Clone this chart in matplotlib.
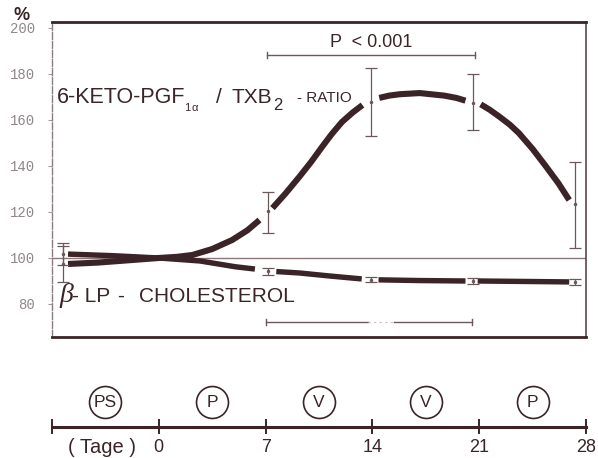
import matplotlib.pyplot as plt
import numpy as np

nan = np.nan

# measurement days and values (% of start value)
days = [-6.3, 7.15, 13.9, 20.6, 27.3]
ratio = [97.4, 120.4, 167.8, 167.4, 123.5]
ratio_lo = [89.4, 110.9, 153.0, 155.7, 104.3]
ratio_hi = [105.4, 128.7, 182.6, 180.0, 141.7]
chol = [101.7, 94.3, 90.6, 90.0, 89.6]
chol_lo = [97.0, 92.8, 89.5, 88.6, 88.2]
chol_hi = [106.5, 95.8, 91.7, 91.4, 91.0]

# traced curves, broken where the error bars sit
ratio_curve_x = [-5.95, -4, -2, 0, 1.2, 2.2, 3.5, 4.8, 5.8, 6.6, nan,
                 7.45, 8.3, 9.2, 10.0, 10.7, 11.35, 12.0, 12.7, 13.35, nan,
                 14.45, 15.1, 15.8, 17.1, 18.7, 19.5, 20.1, nan,
                 21.1, 21.7, 22.35, 23.0, 23.6, 24.5, 25.4, 26.2, 26.9]
ratio_curve_y = [97.4, 98.0, 99.0, 100.0, 100.5, 101.3, 103.9, 107.8, 112.0, 116.5, nan,
                 121.7, 128.0, 135.2, 141.9, 148.3, 154.0, 159.1, 163.2, 166.5, nan,
                 169.6, 170.6, 171.2, 171.7, 170.6, 169.6, 168.4, nan,
                 166.8, 164.4, 161.3, 158.0, 154.3, 147.4, 139.6, 132.4, 125.2]
chol_curve_x = [-5.95, -3, 0, 2.7, 5, 6.3, nan,
                7.7, 9.2, 11, 12.3, 13.3, nan,
                14.4, 17, 20.1, nan,
                20.9, 24, 26.9]
chol_curve_y = [101.7, 101.0, 100.0, 98.7, 96.2, 95.2, nan,
                94.1, 93.5, 92.3, 91.5, 90.9, nan,
                90.5, 90.2, 90.0, nan,
                90.0, 89.8, 89.6]

# significance bars
sig_top = (7.1, 20.7, 188.3)
sig_bottom = (7.05, 20.5, 72.2)
sig_bottom_gap = (13.7, 15.4)

# time line
week_days = [-7, 0, 7, 14, 21, 28]
week_labels = ['', '0', '7', '14', '21', '28']
phase_mid = [-3.5, 3.5, 10.5, 17.5, 24.5]
phase_labels = ['PS', 'P', 'V', 'V', 'P']

dark = '#3b2427'
bar_col = '#6b585b'
W, H = 598, 458

plt.rcParams['font.family'] = ['Liberation Sans', 'DejaVu Sans']
fig = plt.figure(figsize=(W / 100, H / 100), dpi=100)

ax = fig.add_axes([52 / W, 1 - 337 / H, (586 - 52) / W, (337 - 22) / H])
ax.set_xlim(-7, 28)
ax.set_ylim(65.65, 202.6)

ax.axhline(100, color='#8c777b', lw=1.0, zorder=1)

ax.plot(ratio_curve_x, ratio_curve_y, color=dark, lw=4.4,
        solid_capstyle='butt', solid_joinstyle='round', zorder=3)
ax.plot(chol_curve_x, chol_curve_y, color=dark, lw=3.9,
        solid_capstyle='butt', solid_joinstyle='round', zorder=3)

r = np.array(ratio)
ax.errorbar(days, ratio, yerr=[r - np.array(ratio_lo), np.array(ratio_hi) - r],
            fmt='.', ms=3, color=bar_col, ecolor=bar_col, elinewidth=0.9,
            capsize=4, capthick=0.9, zorder=4)
c = np.array(chol)
ax.errorbar(days, chol, yerr=[c - np.array(chol_lo), np.array(chol_hi) - c],
            fmt='.', ms=3, color=bar_col, ecolor=bar_col, elinewidth=0.9,
            capsize=4, capthick=0.9, zorder=4)

# significance bars
x0, x1, y = sig_top
ax.plot([x0, x1], [y, y], color=bar_col, lw=1.0)
ax.plot([x0, x0], [y - 1.3, y + 1.3], color=bar_col, lw=1.0)
ax.plot([x1, x1], [y - 1.3, y + 1.3], color=bar_col, lw=1.0)
ax.text((x0 + x1) / 2, y + 1.6, 'P  < 0.001', ha='center', va='bottom',
        fontsize=13, color=dark)

x0, x1, y = sig_bottom
g0, g1 = sig_bottom_gap
ax.plot([x0, g0], [y, y], color=bar_col, lw=1.0)
ax.plot([g1, x1], [y, y], color=bar_col, lw=1.0)
ax.plot([g0, g1], [y, y], color='#c9bfc1', lw=0.8, ls=(0, (2, 3)))
ax.plot([x0, x0], [y - 1.3, y + 1.3], color=bar_col, lw=1.0)
ax.plot([x1, x1], [y - 1.3, y + 1.3], color=bar_col, lw=1.0)

# frame
ax.spines['top'].set_linewidth(2.0)
ax.spines['top'].set_color(dark)
ax.spines['bottom'].set_linewidth(2.0)
ax.spines['bottom'].set_color(dark)
ax.spines['right'].set_linewidth(1.2)
ax.spines['right'].set_color('#5a474a')
ax.spines['left'].set_linewidth(1.0)
ax.spines['left'].set_color('#8a7d80')
ax.spines['left'].set_linestyle((0, (5, 1.5)))

ax.set_xticks([])
ax.set_yticks(range(80, 201, 20))
ax.tick_params(axis='y', direction='out', length=3, width=0.8,
               colors='#a39a9c', pad=9)
for lab in ax.get_yticklabels():
    lab.set_fontfamily('Liberation Mono')
    lab.set_fontsize(10)
    lab.set_color('#8f8689')

fig.text(22 / W, 1 - 20 / H, '%', ha='center', va='baseline',
         fontsize=13, fontweight='bold', color=dark)


def px_text(x, y, s, **kw):
    fig.text(x / W, 1 - y / H, s, va='baseline', color=dark, **kw)


# curve labels
px_text(57, 103, '6-KETO-PGF', fontsize=15.5)
px_text(184, 111, '1', fontsize=8)
px_text(191, 111, '\u03b1', fontsize=8)
px_text(216, 103, '/', fontsize=15)
px_text(232, 103, 'TXB', fontsize=15)
px_text(273, 110, '2', fontsize=12)
px_text(297, 102, '- RATIO', fontsize=11)

px_text(59, 302, '\u03b2', fontsize=20, family='Liberation Serif', style='italic')
px_text(72, 302, '- LP', fontsize=15)
px_text(117, 302, '-', fontsize=15)
px_text(139, 302, 'CHOLESTEROL', fontsize=15)

# time line below
ax2 = fig.add_axes([52 / W, 0, (586 - 52) / W, 78 / H])
ax2.set_xlim(-7, 28)
ax2.set_ylim(458, 380)
ax2.axis('off')
ax2.plot([week_days[0], week_days[-1]], [427, 427], color=dark, lw=2.2,
         clip_on=False)
for d, lab in zip(week_days, week_labels):
    ax2.plot([d, d], [420, 433], color=dark, lw=1.4, clip_on=False)
    ax2.text(d, 447, lab, ha='center', va='center', fontsize=13,
             color=dark, clip_on=False)
ax2.text(-3.7, 447, '( Tage )', ha='center', va='center', fontsize=14.5,
         color=dark)
ax2.plot(phase_mid, [402] * len(phase_mid), 'o', ms=23, mfc='white',
         mec=dark, mew=1.2, clip_on=False)
for d, lab in zip(phase_mid, phase_labels):
    ax2.text(d, 402.5, lab, ha='center', va='center', fontsize=12.5,
             color=dark)

fig.savefig('out.png', dpi=100)
